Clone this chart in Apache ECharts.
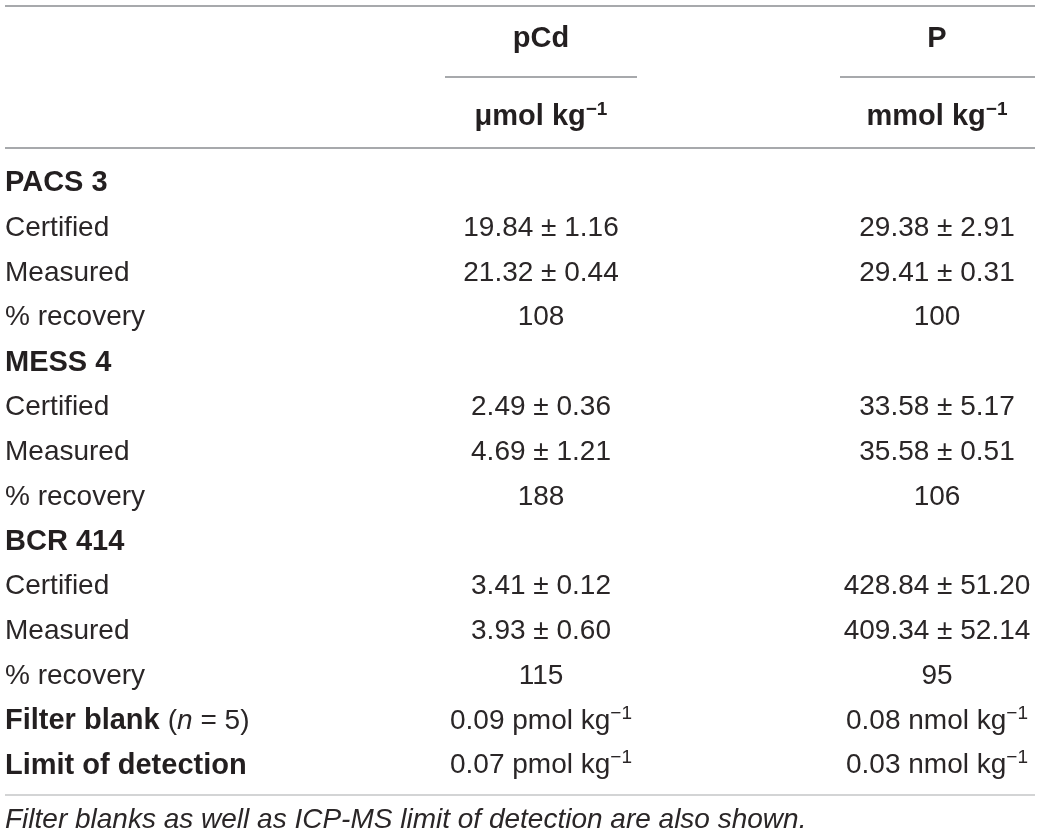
<!DOCTYPE html>
<html>
<head>
<meta charset="utf-8">
<script src="https://cdn.jsdelivr.net/npm/echarts@6/dist/echarts.min.js"></script>
<style>
  html, body { margin: 0; padding: 0; background: #fff; }
  #container { width: 1039px; height: 836px; }
</style>
</head>
<body>
<div id="container"></div>
<script>
// table content
var rowLabels = ['PACS 3', 'Certified', 'Measured', '% recovery',
                 'MESS 4', 'Certified', 'Measured', '% recovery',
                 'BCR 414', 'Certified', 'Measured', '% recovery',
                 'Filter blank', 'Limit of detection'];
var boldRows = ['PACS 3', 'MESS 4', 'BCR 414', 'Filter blank', 'Limit of detection'];
var columnNames = ['pCd', 'P'];
var columnUnits = ['μmol kg', 'mmol kg'];
var pcdValues = ['', '19.84 ± 1.16', '21.32 ± 0.44', '108',
                 '', '2.49 ± 0.36', '4.69 ± 1.21', '188',
                 '', '3.41 ± 0.12', '3.93 ± 0.60', '115',
                 '0.09 pmol kg', '0.07 pmol kg'];
var pValues = ['', '29.38 ± 2.91', '29.41 ± 0.31', '100',
               '', '33.58 ± 5.17', '35.58 ± 0.51', '106',
               '', '428.84 ± 51.20', '409.34 ± 52.14', '95',
               '0.08 nmol kg', '0.03 nmol kg'];
var footnote = 'Filter blanks as well as ICP-MS limit of detection are also shown.';

var TXT = '#231f20';
var RULE = '#a7a9ac';
var FONT = '"Liberation Sans", Arial, sans-serif';
var FS = 28;

var rich = {
    r: { fontFamily: FONT, fontSize: FS, fill: '#2a2627', lineHeight: 34 },
    b: { fontFamily: FONT, fontSize: 29, fontWeight: 'bold', fill: TXT, lineHeight: 34 },
    i: { fontFamily: FONT, fontSize: FS, fontStyle: 'italic', fill: '#2a2627', lineHeight: 34 },
    s: { fontFamily: FONT, fontSize: 19, fill: '#2a2627', lineHeight: 16, verticalAlign: 'top' },
    bs: { fontFamily: FONT, fontSize: 19, fontWeight: 'bold', fill: TXT, lineHeight: 16, verticalAlign: 'top' }
};

// x positions of the columns (label left edge, pCd centre, P centre)
var colX = [0, 536, 932];

function cellText(col, row) {
    if (col === 0) {
        var lab = rowLabels[row];
        if (lab === 'Filter blank') return '{b|Filter blank }{r|(}{i|n}{r| = 5)}';
        return boldRows.indexOf(lab) >= 0 ? '{b|' + lab + '}' : '{r|' + lab + '}';
    }
    var v = (col === 1 ? pcdValues : pValues)[row];
    if (v.indexOf('kg') >= 0) return '{r|' + v + '}{s|−1}';
    return '{r|' + v + '}';
}

var cells = [];
rowLabels.forEach(function (lab, r) {
    cells.push([0, r]);
    if (pcdValues[r] !== '') cells.push([1, r]);
    if (pValues[r] !== '') cells.push([2, r]);
});

var myChart = echarts.init(document.getElementById('container'));
var header = [
    { type: 'line', shape: { x1: 5, y1: 6, x2: 1035, y2: 6 }, style: { stroke: RULE, lineWidth: 2 } },
    { type: 'line', shape: { x1: 445, y1: 77, x2: 637, y2: 77 }, style: { stroke: RULE, lineWidth: 2 } },
    { type: 'line', shape: { x1: 840, y1: 77, x2: 1035, y2: 77 }, style: { stroke: RULE, lineWidth: 2 } },
    { type: 'line', shape: { x1: 5, y1: 148, x2: 1035, y2: 148 }, style: { stroke: RULE, lineWidth: 2 } },
    { type: 'line', shape: { x1: 5, y1: 795, x2: 1035, y2: 795 }, style: { stroke: RULE, lineWidth: 1.2 } },
    {
        type: 'text', x: 5, y: 820,
        style: { text: footnote, fontFamily: FONT, fontSize: 28, fontStyle: 'italic', fill: '#2a2627',
                 align: 'left', verticalAlign: 'middle' }
    }
];
columnNames.forEach(function (name, k) {
    var cx = colX[k + 1] + 5;
    header.push({
        type: 'text', x: cx, y: 39,
        style: { text: '{b|' + name + '}', rich: rich, align: 'center', verticalAlign: 'middle' }
    });
    header.push({
        type: 'text', x: cx, y: 117,
        style: { text: '{b|' + columnUnits[k] + '}{bs|−1}', rich: rich, align: 'center', verticalAlign: 'middle' }
    });
});

myChart.setOption({
    animation: false,
    backgroundColor: '#fff',
    grid: { left: 5, right: 4, top: 161, bottom: 48 },
    xAxis: { type: 'value', min: 0, max: 1030, show: false },
    yAxis: { type: 'category', data: rowLabels, inverse: true, show: false },
    graphic: header,
    series: [{
        type: 'custom',
        data: cells,
        renderItem: function (params, api) {
            var col = api.value(0);
            var row = api.value(1);
            var pt = api.coord([colX[col], row]);
            return {
                type: 'text',
                x: pt[0], y: pt[1],
                style: {
                    text: cellText(col, row),
                    rich: rich,
                    align: col === 0 ? 'left' : 'center',
                    verticalAlign: 'middle'
                }
            };
        }
    }]
});
</script>
</body>
</html>
